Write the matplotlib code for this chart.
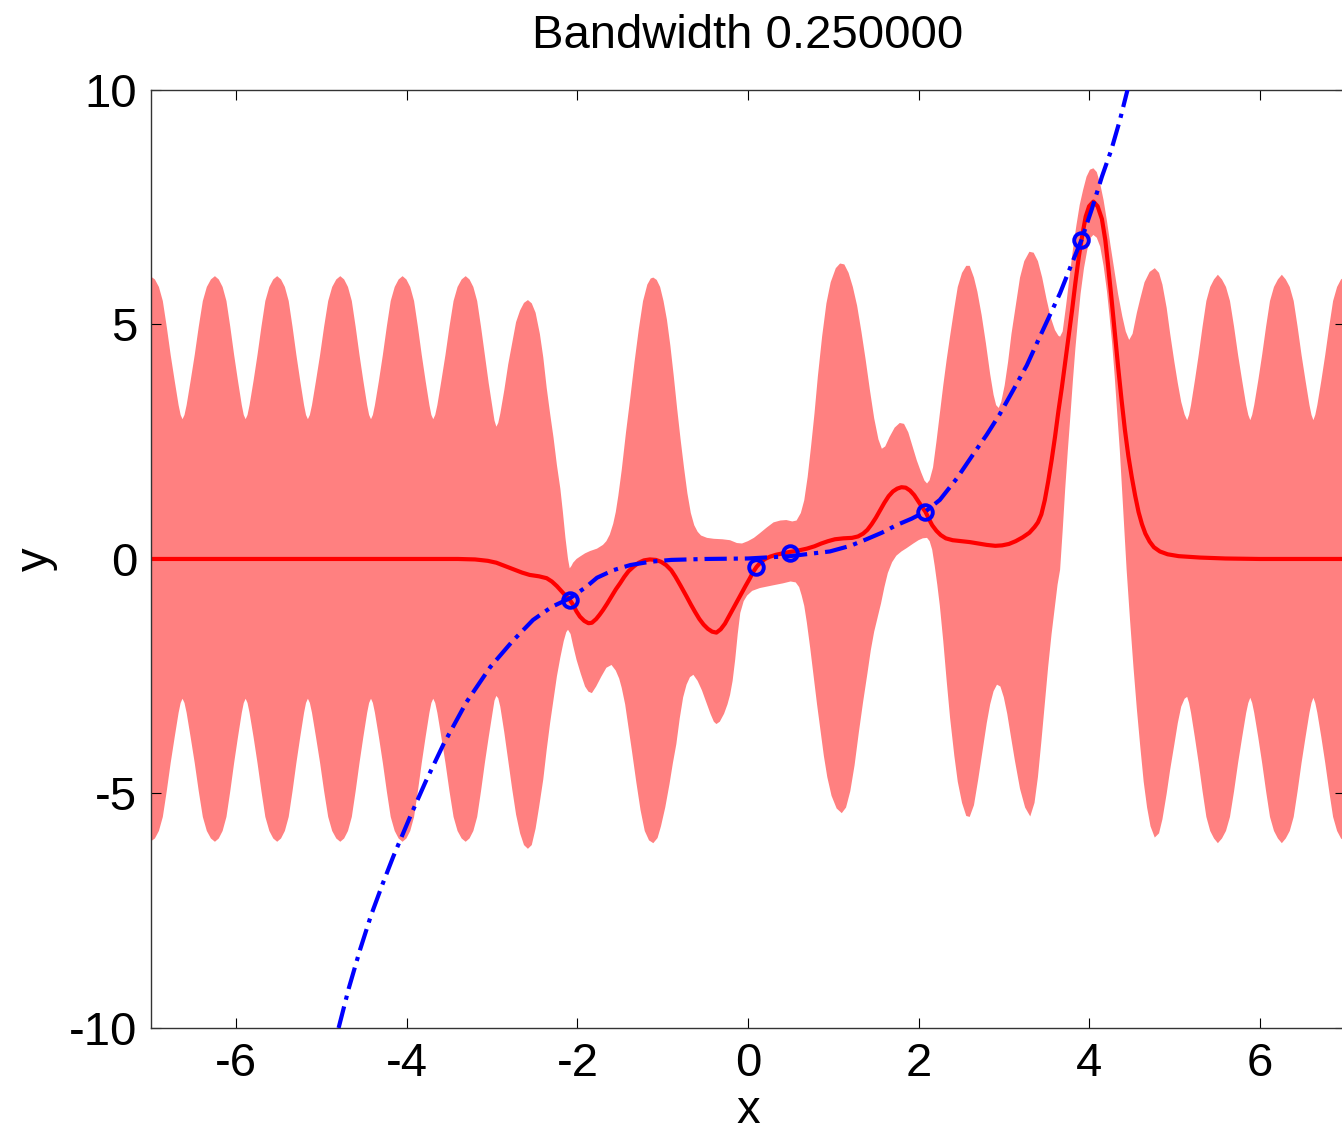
"""
Kernel regression fit with a bandwidth of 0.25: mean, +/- band and observations.
"""

import matplotlib

matplotlib.use("Agg")
import matplotlib.pyplot as plt

plt.rcParams.update(
    {
        "font.family": ["Liberation Sans", "DejaVu Sans"],
        "font.size": 34,
        "axes.titlesize": 34,
        "axes.labelsize": 34,
        "axes.unicode_minus": False,
        "lines.scale_dashes": False,
        "figure.dpi": 100,
        "savefig.dpi": 100,
    }
)

# upper edge of the shaded band, read left to right
UPPER_X = [
    # periodic part, x < -2.95
    -7.000, -6.954, -6.907, -6.861, -6.815, -6.769, -6.722, -6.676, -6.652, -6.630,
    -6.607, -6.582, -6.535, -6.487, -6.440, -6.392, -6.345, -6.297, -6.250,
    -6.205, -6.160, -6.115, -6.070, -6.025, -5.980, -5.935, -5.912, -5.890,
    -5.868, -5.844, -5.797, -5.751, -5.705, -5.659, -5.612, -5.566, -5.520,
    -5.475, -5.430, -5.385, -5.340, -5.295, -5.250, -5.205, -5.182, -5.160,
    -5.137, -5.112, -5.065, -5.017, -4.970, -4.922, -4.875, -4.827, -4.780,
    -4.735, -4.690, -4.645, -4.600, -4.555, -4.510, -4.465, -4.442, -4.420,
    -4.398, -4.374, -4.327, -4.281, -4.235, -4.189, -4.142, -4.096, -4.050,
    -4.005, -3.960, -3.915, -3.870, -3.825, -3.780, -3.735, -3.712, -3.690,
    -3.667, -3.642, -3.595, -3.547, -3.500, -3.452, -3.405, -3.357, -3.310,
    -3.265, -3.220, -3.175, -3.130, -3.085, -3.040, -2.995, -2.972, -2.950,
    # near the observations
    -2.928, -2.904, -2.857, -2.811, -2.765, -2.719, -2.672, -2.626, -2.580,
    -2.535, -2.49, -2.44, -2.40, -2.36, -2.32, -2.28, -2.24, -2.20, -2.17,
    -2.14, -2.11, -2.09, -2.07, -2.05, -2.01, -1.97, -1.91, -1.85, -1.77,
    -1.70, -1.66, -1.62, -1.58, -1.55, -1.52, -1.48, -1.43, -1.38, -1.33,
    -1.28, -1.23, -1.18, -1.14, -1.11, -1.07, -1.03, -0.99, -0.95, -0.91,
    -0.87, -0.83, -0.79, -0.75, -0.71, -0.67, -0.63, -0.59, -0.55, -0.48,
    -0.40, -0.30, -0.21, -0.13, -0.07, 0.00, 0.07, 0.14, 0.22, 0.30,
    0.38, 0.45, 0.52, 0.57, 0.62, 0.66, 0.70, 0.74, 0.78, 0.82,
    0.87, 0.92, 0.97, 1.03, 1.08, 1.13, 1.18, 1.23, 1.28, 1.33,
    1.38, 1.43, 1.48, 1.53, 1.57, 1.61, 1.66, 1.72, 1.78, 1.83,
    1.88, 1.93, 1.98, 2.03, 2.07, 2.10, 2.13, 2.17, 2.21, 2.25,
    2.29, 2.33, 2.37, 2.42, 2.46, 2.51, 2.56, 2.60, 2.65, 2.69,
    2.74, 2.79, 2.84, 2.88, 2.91, 2.94, 2.97, 3.01, 3.05, 3.09,
    3.14, 3.19, 3.24, 3.30, 3.35, 3.40, 3.45, 3.50, 3.55, 3.60,
    3.64, 3.66, 3.69, 3.73, 3.77, 3.81, 3.85, 3.89, 3.93, 3.97,
    4.01, 4.05, 4.09, 4.13, 4.17, 4.21, 4.25, 4.29, 4.34, 4.39,
    4.43, 4.47, 4.51, 4.56, 4.60, 4.65, 4.71, 4.77, 4.82, 4.86,
    4.91, 4.95, 5.00, 5.04, 5.08, 5.12, 5.15,
    # periodic part, x > 5.15
    5.172, 5.195, 5.240, 5.285, 5.330, 5.375, 5.420, 5.465, 5.510,
    5.558, 5.605, 5.652, 5.700, 5.747, 5.795, 5.842, 5.867, 5.890,
    5.912, 5.936, 5.983, 6.029, 6.075, 6.121, 6.168, 6.214, 6.260,
    6.306, 6.353, 6.399, 6.445, 6.491, 6.538, 6.584, 6.608, 6.630,
    6.652, 6.676, 6.723, 6.769, 6.815, 6.861, 6.908, 6.954, 7.000,
]
UPPER_Y = [
    6.02, 5.96, 5.8, 5.5, 4.95, 4.35, 3.8, 3.28, 3.07, 2.98,
    3.07, 3.28, 3.8, 4.35, 4.95, 5.5, 5.8, 5.96, 6.03,
    5.96, 5.8, 5.5, 4.95, 4.35, 3.8, 3.28, 3.07, 2.98,
    3.07, 3.28, 3.8, 4.35, 4.95, 5.5, 5.8, 5.96, 6.03,
    5.96, 5.8, 5.5, 4.95, 4.35, 3.8, 3.28, 3.07, 2.98,
    3.07, 3.28, 3.8, 4.35, 4.95, 5.5, 5.8, 5.96, 6.03,
    5.96, 5.8, 5.5, 4.95, 4.35, 3.8, 3.28, 3.07, 2.98,
    3.07, 3.28, 3.8, 4.35, 4.95, 5.5, 5.8, 5.96, 6.03,
    5.96, 5.8, 5.5, 4.95, 4.35, 3.8, 3.28, 3.07, 2.98,
    3.07, 3.28, 3.8, 4.35, 4.95, 5.5, 5.8, 5.96, 6.03,
    5.96, 5.8, 5.5, 4.95, 4.35, 3.75, 3.22, 2.95, 2.82,
    2.9, 3.1, 3.6, 4.15, 4.6, 5.05, 5.3, 5.46, 5.52,
    5.45, 5.25, 4.8, 4.3, 3.65, 3.1, 2.59, 2.0, 1.5, 1.0,
    0.45, 0.0, -0.2, -0.15, -0.08, 0.0, 0.05, 0.12, 0.17, 0.22,
    0.3, 0.38, 0.52, 0.75, 1.0, 1.35, 1.9, 2.7, 3.43, 4.2,
    4.9, 5.5, 5.85, 5.98, 6.0, 5.95, 5.8, 5.5, 5.1, 4.55,
    3.9, 3.2, 2.55, 1.95, 1.4, 0.98, 0.72, 0.58, 0.5, 0.45,
    0.43, 0.42, 0.40, 0.34, 0.33, 0.38, 0.45, 0.55, 0.67, 0.78,
    0.82, 0.83, 0.80, 0.82, 0.98, 1.25, 1.75, 2.4, 3.1, 3.9,
    4.75, 5.45, 5.9, 6.2, 6.3, 6.28, 6.1, 5.8, 5.4, 4.85,
    4.25, 3.6, 3.0, 2.55, 2.35, 2.4, 2.6, 2.8, 2.9, 2.88,
    2.7, 2.4, 2.1, 1.85, 1.67, 1.61, 1.68, 1.95, 2.5, 3.1,
    3.7, 4.25, 4.75, 5.35, 5.8, 6.1, 6.25, 6.25, 6.0, 5.7,
    5.2, 4.6, 3.94, 3.5, 3.28, 3.22, 3.35, 3.7, 4.2, 4.8,
    5.4, 6.0, 6.35, 6.55, 6.53, 6.35, 6.0, 5.55, 5.15, 4.88,
    4.76, 4.74, 4.85, 5.4, 6.0, 6.59, 7.1, 7.55, 7.87, 8.15,
    8.3, 8.33, 8.25, 8.0, 7.65, 7.2, 6.7, 6.23, 5.65, 5.17,
    4.85, 4.67, 4.8, 5.25, 5.55, 5.9, 6.12, 6.2, 6.1, 5.85,
    5.35, 4.81, 4.2, 3.75, 3.35, 3.08, 2.96,
    3.07, 3.28, 3.8, 4.35, 4.95, 5.5, 5.8, 5.96, 6.06,
    5.96, 5.8, 5.5, 4.95, 4.35, 3.8, 3.28, 3.07, 2.96,
    3.07, 3.28, 3.8, 4.35, 4.95, 5.5, 5.8, 5.96, 6.06,
    5.96, 5.8, 5.5, 4.95, 4.35, 3.8, 3.28, 3.07, 2.96,
    3.07, 3.28, 3.8, 4.35, 4.95, 5.5, 5.8, 5.96, 6.02,
]

# lower edge of the shaded band, read left to right
LOWER_X = [
    -7.000, -6.954, -6.907, -6.861, -6.815, -6.769, -6.722, -6.676, -6.652, -6.630,
    -6.607, -6.582, -6.535, -6.487, -6.440, -6.392, -6.345, -6.297, -6.250,
    -6.205, -6.160, -6.115, -6.070, -6.025, -5.980, -5.935, -5.912, -5.890,
    -5.868, -5.844, -5.797, -5.751, -5.705, -5.659, -5.612, -5.566, -5.520,
    -5.475, -5.430, -5.385, -5.340, -5.295, -5.250, -5.205, -5.182, -5.160,
    -5.137, -5.112, -5.065, -5.017, -4.970, -4.922, -4.875, -4.827, -4.780,
    -4.735, -4.690, -4.645, -4.600, -4.555, -4.510, -4.465, -4.442, -4.420,
    -4.398, -4.374, -4.327, -4.281, -4.235, -4.189, -4.142, -4.096, -4.050,
    -4.005, -3.960, -3.915, -3.870, -3.825, -3.780, -3.735, -3.712, -3.690,
    -3.667, -3.642, -3.595, -3.547, -3.500, -3.452, -3.405, -3.357, -3.310,
    -3.265, -3.220, -3.175, -3.130, -3.085, -3.040, -2.995, -2.972, -2.950,
    -2.928, -2.904, -2.857, -2.811, -2.765, -2.719, -2.672, -2.626, -2.580,
    -2.535, -2.49, -2.45, -2.40, -2.36, -2.32, -2.28, -2.24, -2.20, -2.16,
    -2.13, -2.11, -2.08, -2.05, -2.01, -1.96, -1.91, -1.87, -1.83, -1.78,
    -1.72, -1.66, -1.60, -1.55, -1.51, -1.48, -1.44, -1.40, -1.36, -1.31,
    -1.26, -1.21, -1.16, -1.11, -1.06, -1.02, -0.97, -0.92, -0.88, -0.84,
    -0.80, -0.76, -0.72, -0.68, -0.64, -0.59, -0.54, -0.49, -0.44, -0.40,
    -0.37, -0.33, -0.28, -0.24, -0.21, -0.18, -0.15, -0.12, -0.09, -0.05,
    -0.01, 0.05, 0.14, 0.30, 0.41, 0.50, 0.56, 0.60, 0.63, 0.66,
    0.69, 0.73, 0.77, 0.81, 0.85, 0.89, 0.93, 0.98, 1.04, 1.10,
    1.15, 1.20, 1.25, 1.30, 1.35, 1.40, 1.44, 1.48, 1.52, 1.56,
    1.60, 1.64, 1.69, 1.74, 1.80, 1.86, 1.94, 2.00, 2.05, 2.10,
    2.13, 2.16, 2.19, 2.22, 2.25, 2.29, 2.33, 2.37, 2.42, 2.46,
    2.51, 2.56, 2.60, 2.65, 2.70, 2.75, 2.80, 2.84, 2.88, 2.92,
    2.96, 3.00, 3.04, 3.08, 3.13, 3.19, 3.25, 3.31, 3.36, 3.40,
    3.44, 3.48, 3.52, 3.56, 3.60, 3.63, 3.66, 3.69, 3.72, 3.75,
    3.78, 3.81, 3.84, 3.87, 3.90, 3.94, 3.98, 4.02, 4.05, 4.09,
    4.13, 4.17, 4.21, 4.24, 4.27, 4.30, 4.33, 4.36, 4.40, 4.44,
    4.48, 4.52, 4.56, 4.60, 4.64, 4.68, 4.72, 4.77, 4.82, 4.86,
    4.91, 4.95, 5.00, 5.04, 5.08, 5.12, 5.15,
    5.172, 5.195, 5.240, 5.285, 5.330, 5.375, 5.420, 5.465, 5.510,
    5.558, 5.605, 5.652, 5.700, 5.747, 5.795, 5.842, 5.867, 5.890,
    5.912, 5.936, 5.983, 6.029, 6.075, 6.121, 6.168, 6.214, 6.260,
    6.306, 6.353, 6.399, 6.445, 6.491, 6.538, 6.584, 6.608, 6.630,
    6.652, 6.676, 6.723, 6.769, 6.815, 6.861, 6.908, 6.954, 7.000,
]
LOWER_Y = [
    -6.02, -5.96, -5.8, -5.5, -4.95, -4.35, -3.8, -3.28, -3.07, -2.98,
    -3.07, -3.28, -3.8, -4.35, -4.95, -5.5, -5.8, -5.96, -6.03,
    -5.96, -5.8, -5.5, -4.95, -4.35, -3.8, -3.28, -3.07, -2.98,
    -3.07, -3.28, -3.8, -4.35, -4.95, -5.5, -5.8, -5.96, -6.03,
    -5.96, -5.8, -5.5, -4.95, -4.35, -3.8, -3.28, -3.07, -2.98,
    -3.07, -3.28, -3.8, -4.35, -4.95, -5.5, -5.8, -5.96, -6.03,
    -5.96, -5.8, -5.5, -4.95, -4.35, -3.8, -3.28, -3.07, -2.98,
    -3.07, -3.28, -3.8, -4.35, -4.95, -5.5, -5.8, -5.96, -6.03,
    -5.96, -5.8, -5.5, -4.95, -4.35, -3.8, -3.28, -3.07, -2.98,
    -3.07, -3.28, -3.8, -4.35, -4.95, -5.5, -5.8, -5.96, -6.03,
    -5.96, -5.8, -5.5, -4.95, -4.35, -3.8, -3.28, -3.02, -2.92,
    -2.97, -3.15, -3.7, -4.3, -4.9, -5.45, -5.85, -6.1, -6.18,
    -6.1, -5.75, -5.3, -4.7, -4.07, -3.5, -3.0, -2.5, -2.1, -1.75,
    -1.56, -1.51, -1.6, -1.85, -2.15, -2.45, -2.72, -2.83, -2.86, -2.72,
    -2.51, -2.32, -2.26, -2.38, -2.55, -2.75, -3.1, -3.6, -4.1, -4.75,
    -5.35, -5.8, -6.0, -6.06, -5.95, -5.7, -5.3, -4.8, -4.35, -3.95,
    -3.4, -2.95, -2.68, -2.52, -2.47, -2.6, -2.8, -3.05, -3.3, -3.47,
    -3.52, -3.47, -3.3, -3.1, -2.9, -2.6, -2.15, -1.6, -1.15, -0.9,
    -0.78, -0.68, -0.62, -0.56, -0.52, -0.48, -0.5, -0.6, -0.78, -1.0,
    -1.35, -1.9, -2.5, -3.1, -3.65, -4.2, -4.65, -5.05, -5.32, -5.42,
    -5.3, -4.95, -4.4, -3.7, -3.05, -2.45, -1.95, -1.55, -1.25, -0.95,
    -0.6, -0.3, -0.07, 0.07, 0.16, 0.23, 0.33, 0.4, 0.44, 0.45,
    0.38, 0.2, -0.15, -0.55, -1.0, -1.75, -2.6, -3.39, -4.2, -4.75,
    -5.2, -5.48, -5.5, -5.25, -4.7, -4.1, -3.5, -3.1, -2.82, -2.68,
    -2.72, -2.95, -3.3, -3.75, -4.3, -4.9, -5.3, -5.49, -5.2, -4.65,
    -3.9, -3.1, -2.3, -1.6, -1.0, -0.55, -0.23, 0.6, 1.5, 2.3,
    3.03, 3.8, 4.5, 5.1, 5.65, 6.2, 6.6, 6.85, 6.91, 6.85,
    6.66, 6.25, 5.7, 5.17, 4.6, 3.9, 3.1, 2.32, 1.05, -0.23,
    -1.3, -2.3, -3.2, -4.0, -4.75, -5.3, -5.7, -5.94, -5.85, -5.55,
    -5.0, -4.5, -3.95, -3.5, -3.15, -2.98, -2.94,
    -3.07, -3.28, -3.8, -4.35, -4.95, -5.5, -5.8, -5.96, -6.06,
    -5.96, -5.8, -5.5, -4.95, -4.35, -3.8, -3.28, -3.07, -2.96,
    -3.07, -3.28, -3.8, -4.35, -4.95, -5.5, -5.8, -5.96, -6.06,
    -5.96, -5.8, -5.5, -4.95, -4.35, -3.8, -3.28, -3.07, -2.96,
    -3.07, -3.28, -3.8, -4.35, -4.95, -5.5, -5.8, -5.96, -6.02,
]

# fitted mean (red)
MEAN_X = [
    -7.00, -3.40, -3.20, -3.05, -2.95, -2.85, -2.75, -2.65, -2.56, -2.45,
    -2.36, -2.30, -2.24, -2.18, -2.13, -2.09, -2.05, -2.01, -1.97, -1.92,
    -1.87, -1.83, -1.78, -1.74, -1.70, -1.65, -1.60, -1.55, -1.50, -1.45,
    -1.40, -1.34, -1.28, -1.22, -1.15, -1.08, -1.02, -0.96, -0.90, -0.85,
    -0.79, -0.72, -0.67, -0.62, -0.57, -0.52, -0.47, -0.42, -0.37, -0.32,
    -0.27, -0.21, -0.15, -0.09, -0.03, 0.02, 0.06, 0.10, 0.15, 0.20,
    0.26, 0.33, 0.41, 0.49, 0.59, 0.69, 0.78, 0.86, 0.94, 1.02,
    1.12, 1.22, 1.29, 1.35, 1.40, 1.45, 1.50, 1.55, 1.60, 1.65,
    1.70, 1.75, 1.80, 1.85, 1.90, 1.95, 2.00, 2.04, 2.08, 2.12,
    2.16, 2.21, 2.26, 2.32, 2.40, 2.50, 2.60, 2.70, 2.80, 2.90,
    2.98, 3.06, 3.14, 3.22, 3.30, 3.36, 3.40, 3.44, 3.48, 3.52,
    3.56, 3.60, 3.64, 3.68, 3.72, 3.76, 3.80, 3.84, 3.88, 3.92,
    3.96, 4.00, 4.05, 4.10, 4.15, 4.19, 4.22, 4.26, 4.30, 4.34,
    4.38, 4.42, 4.46, 4.50, 4.54, 4.58, 4.62, 4.66, 4.71, 4.76,
    4.83, 4.92, 5.05, 5.30, 5.60, 6.00, 7.00,
]
MEAN_Y = [
    0.0, 0.0, -0.01, -0.04, -0.08, -0.15, -0.22, -0.29, -0.34, -0.37,
    -0.41, -0.48, -0.58, -0.70, -0.80, -0.87, -0.98, -1.12, -1.23, -1.32,
    -1.37, -1.36, -1.28, -1.19, -1.09, -0.95, -0.80, -0.65, -0.52, -0.38,
    -0.26, -0.16, -0.08, -0.03, -0.01, -0.02, -0.06, -0.13, -0.24, -0.38,
    -0.57, -0.80, -0.97, -1.13, -1.28, -1.40, -1.49, -1.55, -1.57, -1.50,
    -1.38, -1.18, -0.98, -0.78, -0.58, -0.42, -0.28, -0.17, -0.07, 0.0,
    0.05, 0.09, 0.12, 0.15, 0.18, 0.22, 0.27, 0.33, 0.38, 0.42,
    0.44, 0.45, 0.48, 0.54, 0.62, 0.74, 0.88, 1.04, 1.20, 1.34,
    1.44, 1.50, 1.53, 1.52, 1.46, 1.36, 1.22, 1.11, 1.01, 0.86,
    0.72, 0.60, 0.51, 0.44, 0.40, 0.38, 0.36, 0.33, 0.30, 0.28,
    0.29, 0.32, 0.38, 0.46, 0.56, 0.68, 0.78, 0.95, 1.25, 1.65,
    2.1, 2.6, 3.15, 3.65, 4.2, 4.75, 5.3, 5.9, 6.45, 6.9,
    7.3, 7.52, 7.62, 7.52, 7.25, 6.8, 6.3, 5.6, 4.85, 4.1,
    3.4, 2.75, 2.2, 1.75, 1.35, 1.0, 0.74, 0.54, 0.37, 0.25,
    0.16, 0.10, 0.06, 0.03, 0.01, 0.0, 0.0,
]

# underlying function (blue dash-dot)
TRUE_X = [
    -4.80, -4.68, -4.55, -4.42, -4.28, -4.16, -3.96, -3.78, -3.57, -3.30,
    -3.02, -2.76, -2.52, -2.30, -2.09, -1.90, -1.77, -1.58, -1.38, -1.15,
    -0.90, -0.50, 0.00, 0.49, 0.96, 1.20, 1.39, 1.57, 1.74, 1.92,
    2.08, 2.25, 2.45, 2.64, 2.80, 2.95, 3.11, 3.27, 3.40, 3.54,
    3.66, 3.78, 3.91, 4.03, 4.15, 4.26, 4.36, 4.45,
]
TRUE_Y = [
    -10.0, -9.15, -8.34, -7.6, -6.91, -6.35, -5.49, -4.75, -3.95, -3.05,
    -2.30, -1.75, -1.30, -1.02, -0.84, -0.60, -0.40, -0.24, -0.13, -0.06,
    -0.02, 0.0, 0.01, 0.06, 0.16, 0.28, 0.42, 0.56, 0.72, 0.86,
    1.01, 1.26, 1.72, 2.23, 2.65, 3.08, 3.6, 4.13, 4.65, 5.2,
    5.67, 6.22, 6.80, 7.45, 8.15, 8.72, 9.35, 10.0,
]

# observations
OBS_X = [-2.09, 0.10, 0.49, 2.08, 3.91]
OBS_Y = [-0.87, -0.17, 0.12, 1.01, 6.80]

X_TICKS = [-6, -4, -2, 0, 2, 4, 6]
Y_TICKS = [-10, -5, 0, 5, 10]


def plot_fit(output_path: str):
    fig = plt.figure(figsize=(13.42, 11.33))
    ax = fig.add_axes([0.1125, 0.0927, 0.8897, 0.8279])

    ax.fill(
        UPPER_X + LOWER_X[::-1],
        UPPER_Y + LOWER_Y[::-1],
        color="#FF8080",
        linewidth=0,
        zorder=1,
    )
    ax.plot(MEAN_X, MEAN_Y, color="#FF0000", linewidth=3.0, zorder=2)
    ax.plot(
        TRUE_X,
        TRUE_Y,
        color="#0000FF",
        linewidth=3.0,
        dashes=(16, 5, 3, 5),
        zorder=3,
    )
    ax.plot(
        OBS_X,
        OBS_Y,
        linestyle="none",
        marker="o",
        markersize=10.5,
        markerfacecolor="none",
        markeredgecolor="#0000FF",
        markeredgewidth=2.8,
        zorder=4,
    )

    ax.set_xlim(-7, 7)
    ax.set_ylim(-10, 10)
    ax.set_xticks(X_TICKS)
    ax.set_yticks(Y_TICKS)
    ax.tick_params(
        direction="in", top=True, right=True, length=7, width=0.8, pad=10
    )
    for spine in ax.spines.values():
        spine.set_linewidth(1.0)
        spine.set_color("#333333")

    ax.set_xlabel("x", labelpad=2)
    ax.set_ylabel("y", labelpad=8)
    ax.set_title("Bandwidth 0.250000", pad=30)

    fig.savefig(output_path)
    plt.close(fig)


if __name__ == "__main__":
    plot_fit("out.png")
